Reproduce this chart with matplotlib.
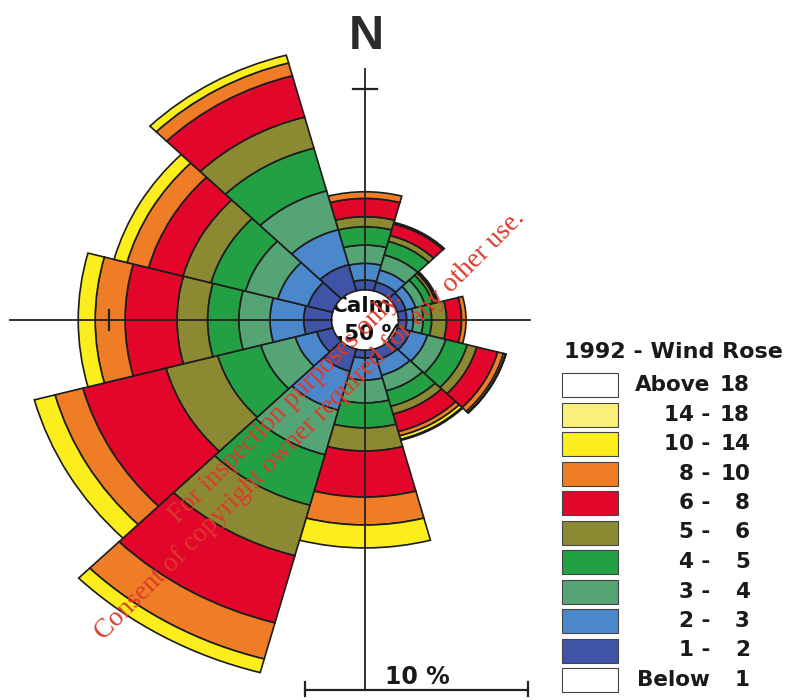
import matplotlib.pyplot as plt
from matplotlib.patches import Wedge, Circle, Rectangle

plt.rcParams['font.family'] = ['DejaVu Sans']

# direções dos setores (graus a partir do norte, sentido horário)
direcoes = [0, 30, 60, 90, 120, 150, 180, 210, 240, 270, 300, 330]
calmaria = 1.50  # % de calmaria (círculo central)

# frequência (%) de cada classe de velocidade, por direção
v_1_2   = [0.49, 0.45, 0.40, 0.37, 0.60, 0.55, 0.39, 1.14, 0.74, 1.25, 1.15, 1.35]
v_2_3   = [0.83, 0.62, 0.45, 0.30, 0.80, 0.80, 1.10, 2.00, 1.00, 1.51, 1.40, 1.80]
v_3_4   = [0.91, 0.78, 0.45, 0.44, 0.85, 0.80, 1.14, 2.30, 1.60, 1.40, 1.50, 2.00]
v_4_5   = [0.91, 0.70, 0.35, 0.38, 1.00, 0.80, 1.24, 2.60, 2.00, 1.40, 1.60, 2.20]
v_5_6   = [0.50, 0.30, 0.15, 0.67, 0.44, 0.40, 1.15, 2.60, 2.40, 1.37, 1.30, 1.60]
v_6_8   = [0.91, 0.60, 0.07, 0.67, 0.97, 0.90, 2.29, 3.46, 3.86, 2.33, 1.60, 2.13]
v_8_10  = [0.33, 0.08, 0.03, 0.20, 0.27, 0.22, 1.39, 1.86, 1.29, 1.34, 1.00, 0.66]
v_10_14 = [0.00, 0.00, 0.00, 0.00, 0.09, 0.18, 1.14, 0.70, 0.96, 0.76, 0.60, 0.40]
v_14_18 = [0.00, 0.00, 0.00, 0.00, 0.03, 0.05, 0.00, 0.00, 0.00, 0.00, 0.00, 0.00]
v_acima = [0.00] * 12

classes = [v_1_2, v_2_3, v_3_4, v_4_5, v_5_6, v_6_8, v_8_10, v_10_14, v_14_18, v_acima]
cores = ["#3f54a6", "#4a88cb", "#55a475", "#22a043", "#8b8a33",
         "#e1062a", "#ef7d25", "#fcee1c", "#f9f07a", "#ffffff"]

# legenda (de cima para baixo)
leg_esq = ["Above", "14 -", "10 -", "8 -", "6 -", "5 -", "4 -", "3 -", "2 -", "1 -", "Below"]
leg_dir = ["18", "18", "14", "10", "8", "6", "5", "4", "3", "2", "1"]
leg_cor = ["#ffffff", "#f9f07a", "#fcee1c", "#ef7d25", "#e1062a", "#8b8a33",
           "#22a043", "#55a475", "#4a88cb", "#3f54a6", "#ffffff"]

W, H = 785, 700
cx, cy = 365, 320      # centro em pixels
sx, sy = 22.3, 20.1    # pixels por 1 %

fig = plt.figure(figsize=(W / 100, H / 100), dpi=100)
ax = fig.add_axes([0, 0, 1, 1])
ax.set_xlim(-cx / sx, (W - cx) / sx)
ax.set_ylim(-(H - cy) / sy, cy / sy)
ax.axis("off")

# setores empilhados
for i, d in enumerate(direcoes):
    base = calmaria
    for vals, cor in zip(classes, cores):
        h = vals[i]
        if h <= 0:
            continue
        ax.add_patch(Wedge((0, 0), base + h, 90 - d - 15, 90 - d + 15, width=h,
                           facecolor=cor, edgecolor="#1c1c1c", linewidth=1.2, zorder=2))
        base += h

# círculo de calmaria
ax.add_patch(Circle((0, 0), calmaria, facecolor="white", edgecolor="none", zorder=1))
ax.text(-0.13, 0.72, "Calm", ha="center", va="center", fontsize=15.5,
        fontweight="bold", color="#111111", zorder=1.5)
ax.text(-0.13, -0.70, f"{calmaria:.2f} %", ha="center", va="center", fontsize=15.5,
        fontweight="bold", color="#111111", zorder=1.5)

# eixos N-S / E-W
cor_eixo = "#222222"
ax.plot([-15.9, -calmaria], [0, 0], color=cor_eixo, lw=1.3, zorder=3)
ax.plot([calmaria, 7.4], [0, 0], color=cor_eixo, lw=1.3, zorder=3)
ax.plot([0, 0], [calmaria, 12.5], color=cor_eixo, lw=1.3, zorder=3)
ax.plot([0, 0], [-calmaria, -18.41], color=cor_eixo, lw=1.3, zorder=3)
# marcas de 10 %
r10 = calmaria + 10
ax.plot([-0.54, 0.54], [r10, r10], color=cor_eixo, lw=1.6, zorder=3)
ax.plot([-r10, -r10], [-0.5, 0.5], color=cor_eixo, lw=1.6, zorder=3)

ax.text(0.05, 14.08, "N", ha="center", va="center", fontsize=35,
        fontweight="bold", color="#2b2b2b", family="Liberation Sans")

# barra de escala
x0, yb = -2.69, -18.41
ax.plot([x0, x0 + 10], [yb, yb], color=cor_eixo, lw=1.6)
ax.plot([x0, x0], [yb - 0.3, yb + 0.4], color=cor_eixo, lw=1.6)
ax.plot([x0 + 10, x0 + 10], [yb - 0.3, yb + 0.4], color=cor_eixo, lw=1.6)
ax.text(2.33, -17.76, "10 %", ha="center", va="center", fontsize=17,
        fontweight="bold", color="#1a1a1a")

# legenda
def px(x, y):
    return x / W, 1 - y / H

ax.text(*px(673, 352), "1992 - Wind Rose", transform=ax.transAxes, ha="center",
        va="center", fontsize=16, fontweight="bold", color="#1a1a1a")
for k in range(len(leg_esq)):
    yc = 385 + 29.5 * k
    x1, y1 = px(562, yc + 12)
    ax.add_patch(Rectangle((x1, y1), 56 / W, 24 / H, transform=ax.transAxes,
                           facecolor=leg_cor[k], edgecolor="#444444", linewidth=0.8))
    ax.text(*px(710, yc), leg_esq[k], transform=ax.transAxes, ha="right",
            va="center", fontsize=15.5, fontweight="bold", color="#1a1a1a")
    ax.text(*px(750, yc), leg_dir[k], transform=ax.transAxes, ha="right",
            va="center", fontsize=15.5, fontweight="bold", color="#1a1a1a")

# marca d'água
marca = dict(rotation=45, rotation_mode="anchor", ha="center", va="center",
             fontsize=19.5, family="Liberation Serif", color="#dc3a2a", zorder=5)
fig.text(286 / W, 1 - 407 / H, "For inspection purposes only.", **marca)
fig.text(310 / W, 1 - 425 / H, "Consent of copyright owner required for any other use.", **marca)

fig.savefig("out.png", dpi=100)
